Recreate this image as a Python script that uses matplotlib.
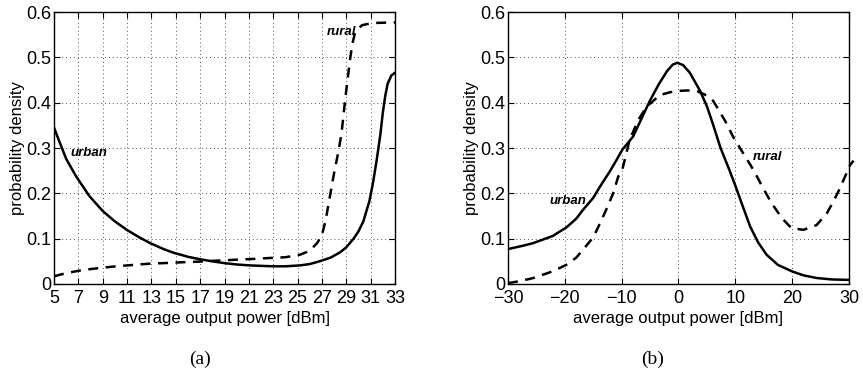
import matplotlib.pyplot as plt
import numpy as np

plt.rcParams['font.family'] = ['Liberation Sans', 'DejaVu Sans']

# panel (a): average output power 5..33 dBm
xa_urban = [5.0, 5.5, 6.0, 6.8, 7.9, 9.0, 10.0, 11.0, 12.0, 12.9, 14.0, 14.8, 16.0, 17.0,
            18.0, 19.0, 20.0, 21.1, 22.0, 23.0, 24.0, 25.2, 26.0, 26.8, 27.7, 28.5,
            29.0, 29.6, 30.0, 30.4, 30.9, 31.2, 31.5, 31.8, 32.0, 32.2, 32.4, 32.7, 33.0]
ya_urban = [0.345, 0.310, 0.276, 0.238, 0.194, 0.161, 0.138, 0.119, 0.103, 0.090, 0.077,
            0.069, 0.060, 0.0545, 0.050, 0.046, 0.043, 0.041, 0.040, 0.039, 0.039, 0.041,
            0.044, 0.050, 0.058, 0.070, 0.081, 0.100, 0.116, 0.138, 0.183, 0.224, 0.274,
            0.330, 0.378, 0.415, 0.442, 0.460, 0.466]
xa_rural = [5.0, 6.0, 7.4, 9.0, 10.1, 11.5, 12.9, 14.0, 15.6, 17.0, 18.0, 19.5, 21.1, 22.5,
            24.0, 25.2, 25.7, 26.2, 26.6, 27.0, 27.3, 27.6, 28.0, 28.3, 28.6, 28.9, 29.3,
            29.5, 29.7, 30.0, 30.3, 31.0, 31.5, 33.0]
ya_rural = [0.017, 0.024, 0.031, 0.036, 0.039, 0.042, 0.045, 0.046, 0.048, 0.0495, 0.051,
            0.053, 0.055, 0.057, 0.059, 0.0645, 0.070, 0.079, 0.090, 0.108, 0.140, 0.185,
            0.245, 0.285, 0.330, 0.405, 0.494, 0.530, 0.552, 0.564, 0.571, 0.575, 0.576,
            0.577]

# panel (b): average output power -30..30 dBm
xb_urban = [-30.0, -27.5, -25.6, -22.1, -19.7, -18.0, -16.8, -15.0, -13.8, -12.0, -10.9,
            -9.9, -8.0, -6.5, -5.0, -3.5, -2.0, -1.0, -0.2, 0.8, 2.0, 3.8, 5.0, 6.0, 7.4,
            9.0, 10.0, 11.2, 12.6, 14.0, 15.5, 17.5, 20.0, 22.0, 24.3, 27.0, 30.0]
yb_urban = [0.077, 0.084, 0.090, 0.106, 0.125, 0.144, 0.1635, 0.190, 0.215, 0.250, 0.2735,
            0.296, 0.325, 0.365, 0.405, 0.440, 0.470, 0.484, 0.488, 0.483, 0.466, 0.426,
            0.392, 0.355, 0.300, 0.250, 0.217, 0.175, 0.127, 0.092, 0.0645, 0.042, 0.0277,
            0.019, 0.0132, 0.010, 0.009]
xb_rural = [-30.0, -28.0, -25.6, -22.1, -19.7, -18.0, -16.8, -15.0, -13.8, -12.5, -11.5,
            -10.6, -9.9, -8.6, -7.1, -5.6, -3.3, -1.5, 0.1, 1.6, 3.2, 4.6, 6.1, 8.2, 9.6,
            11.4, 13.2, 14.9, 16.4, 18.2, 19.9, 22.0, 24.3, 26.1, 27.25, 28.4, 29.3, 30.2,
            30.8]
yb_rural = [0.002, 0.006, 0.013, 0.028, 0.0425, 0.058, 0.0755, 0.103, 0.134, 0.170, 0.200,
            0.237, 0.2515, 0.3175, 0.3616, 0.391, 0.4166, 0.423, 0.426, 0.427, 0.426, 0.418,
            0.404, 0.360, 0.325, 0.288, 0.2515, 0.211, 0.178, 0.145, 0.123, 0.1195, 0.130,
            0.156, 0.182, 0.211, 0.237, 0.2625, 0.272]

fig = plt.figure(figsize=(8.63, 3.72), dpi=100)
ax1 = fig.add_axes([0.0626, 0.2366, 0.3951, 0.7311])
ax2 = fig.add_axes([0.5886, 0.2366, 0.3952, 0.7311])

def style(ax):
    ax.set_ylim(0, 0.6)
    ax.set_yticks(np.arange(0, 0.61, 0.1))
    ax.set_yticklabels(['0', '0.1', '0.2', '0.3', '0.4', '0.5', '0.6'])
    ax.grid(True, color='#555555', linestyle=(0, (1, 3)), linewidth=0.7)
    ax.tick_params(direction='in', top=True, right=True, labelsize=13, length=4, pad=2)
    ax.tick_params(axis='x', pad=4)
    for s in ax.spines.values():
        s.set_linewidth(1.0)
    ax.set_ylabel('probability density', fontsize=12, labelpad=1)
    ax.set_xlabel('average output power [dBm]', fontsize=12, labelpad=3)

line_kw = dict(color='black', lw=1.8, solid_joinstyle='round', dash_joinstyle='round')

ax1.plot(xa_urban, ya_urban, **line_kw)
ax1.plot(xa_rural, ya_rural, ls=(0, (4, 3)), **line_kw)
ax1.set_xlim(5, 33)
ax1.set_xticks(range(5, 34, 2))
style(ax1)
ax1.text(7.9, 0.29, 'urban', fontsize=9.5, fontweight='bold', style='italic', ha='center', va='center')
ax1.text(28.6, 0.556, 'rural', fontsize=9.5, fontweight='bold', style='italic', ha='center', va='center')

ax2.plot(xb_urban, yb_urban, **line_kw)
ax2.plot(xb_rural, yb_rural, ls=(0, (4, 3)), clip_on=False, **line_kw)
ax2.set_xlim(-30, 30)
ax2.set_xticks(range(-30, 31, 10))
ax2.set_xticklabels(['\u221230', '\u221220', '\u221210', '0', '10', '20', '30'])
style(ax2)
ax2.text(-19.5, 0.183, 'urban', fontsize=9.5, fontweight='bold', style='italic', ha='center', va='center')
ax2.text(15.7, 0.28, 'rural', fontsize=9.5, fontweight='bold', style='italic', ha='center', va='center')

fig.text(200 / 863, 1 - 359 / 372, '(a)', family='Liberation Serif', fontsize=14, ha='center', va='center')
fig.text(653 / 863, 1 - 359 / 372, '(b)', family='Liberation Serif', fontsize=14, ha='center', va='center')

fig.savefig('out.png', dpi=100)
